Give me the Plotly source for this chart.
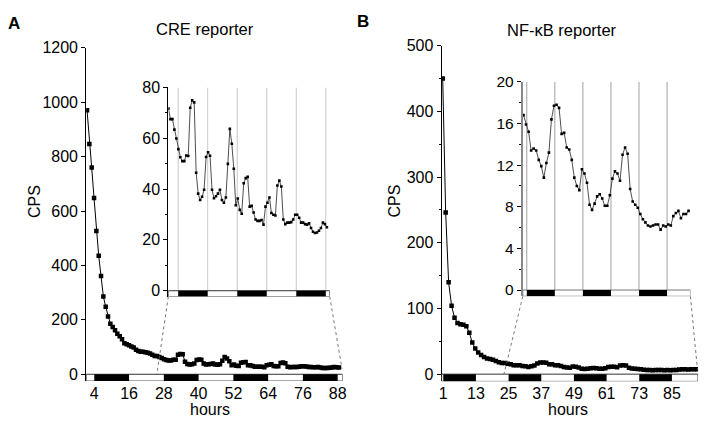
import plotly.graph_objects as go

FONT = "Arial, 'Liberation Sans', Helvetica, sans-serif"
W, H = 708, 421

# ---------------- Panel A : CRE reporter ----------------
cre_first_hour = 1.5
cre_step_hours = 0.805          # interval between luminescence readings
cre_decay_cps = [971, 847, 760, 648, 527, 436, 361, 286, 248, 212, 186, 174, 162, 149,
                 140, 129, 114, 110, 107, 102, 98, 90, 86, 83, 83, 81, 79, 76]
cre_tail_cps = [71.7, 67.5, 67.5, 63.4, 59.9, 55.7, 52.5, 51.0, 51.0, 53.2, 53.0, 72.0,
                74.9, 74.1, 46.4, 38.2, 35.7, 37.0, 39.7, 52.6, 54.5, 53.1, 39.7, 36.4,
                37.2, 38.2, 39.7, 35.7, 34.6, 36.7, 49.9, 63.7, 57.8, 48.0, 33.6, 36.3,
                31.8, 30.3, 42.3, 44.3, 44.8, 33.1, 33.4, 30.8, 28.0, 27.5, 27.5, 27.8,
                26.0, 33.1, 34.6, 36.7, 30.6, 29.9, 29.6, 41.4, 43.3, 41.0, 28.0, 26.2,
                26.8, 26.8, 27.0, 28.0, 29.9, 29.9, 28.7, 26.8, 26.8, 26.2, 26.0, 26.5,
                24.7, 23.2, 22.7, 22.9, 23.6, 24.7, 26.8, 26.2, 25.0]
cre_dark_periods = [(4, 16), (28, 40), (52, 64), (76, 88)]
cre_xticks = [4, 16, 28, 40, 52, 64, 76, 88]
cre_yticks = [0, 200, 400, 600, 800, 1000, 1200]
cre_inset_yticks = [0, 20, 40, 60, 80]

# ---------------- Panel B : NF-kB reporter ----------------
nfkb_first_hour = 0.8
nfkb_step_hours = 1.086
nfkb_decay_cps = [450, 246, 140, 104, 86, 78, 76, 75, 73, 63, 48, 39, 33, 29, 26, 24,
                  23, 22, 20, 18, 17]
nfkb_tail_cps = [16.8, 15.9, 15.2, 13.4, 13.6, 13.4, 12.5, 11.9, 10.8, 12.2,
                 13.2, 16.4, 17.7, 17.8, 17.5, 15.0, 15.1, 13.7, 13.5, 12.5,
                 10.8, 10.0, 9.6, 11.6, 11.2, 10.3, 8.2, 7.7, 8.3, 9.0,
                 9.2, 8.8, 8.1, 8.1, 9.1, 10.7, 11.4, 11.2, 10.5, 13.0,
                 13.7, 13.1, 9.7, 8.5, 8.2, 7.9, 7.3, 6.8, 6.5, 6.2,
                 6.1, 6.2, 6.3, 6.3, 5.8, 6.2, 6.1, 6.3, 6.2, 7.1,
                 7.4, 7.6, 6.9, 7.3, 7.3, 7.6]
nfkb_dark_periods = [(1, 13), (25, 37), (49, 61), (73, 85)]
nfkb_xticks = [1, 13, 25, 37, 49, 61, 73, 85]
nfkb_yticks = [0, 100, 200, 300, 400, 500]
nfkb_inset_yticks = [0, 4, 8, 12, 16, 20]

cre_cps = cre_decay_cps + cre_tail_cps
cre_hours = [round(cre_first_hour + cre_step_hours * i, 3) for i in range(len(cre_cps))]
cre_tail_hours = cre_hours[len(cre_decay_cps):]

nfkb_cps = nfkb_decay_cps + nfkb_tail_cps
nfkb_hours = [round(nfkb_first_hour + nfkb_step_hours * i, 3) for i in range(len(nfkb_cps))]
nfkb_tail_hours = nfkb_hours[len(nfkb_decay_cps):]

# ---------------- layout geometry (paper fractions from pixels) ----------------
def px_x(p):
    return p / W


def px_y(p):
    return 1 - p / H


axes = {
    # name: (x domain, y domain, x range, y range)
    "A": ([px_x(84), px_x(343)], [px_y(383), px_y(40)], [1.2, 89.7], [-25, 1200]),
    "Ai": ([px_x(167), px_x(330)], [px_y(296), px_y(80.7)], [24.0, 89.6], [-2.3, 80]),
    "B": ([px_x(443), px_x(702)], [px_y(383.3), px_y(37.7)], [0.4, 94.6], [-11, 500]),
    "Bi": ([px_x(525), px_x(694.3)], [px_y(295.7), px_y(75)], [23.3, 95.0], [-0.6, 20]),
}
refs = {"A": ("x", "y"), "Ai": ("x2", "y2"), "B": ("x3", "y3"), "Bi": ("x4", "y4")}


def to_paper(ax, xv, yv):
    xd, yd, xr, yr = axes[ax]
    px = xd[0] + (xv - xr[0]) / (xr[1] - xr[0]) * (xd[1] - xd[0])
    py = yd[0] + (yv - yr[0]) / (yr[1] - yr[0]) * (yd[1] - yd[0])
    return px, py


fig = go.Figure()

main_line = dict(color="black", width=1)
fig.add_trace(go.Scatter(x=cre_hours, y=cre_cps, mode="lines+markers", line=main_line,
                         marker=dict(symbol="square", size=4.5, color="black"),
                         xaxis="x", yaxis="y", showlegend=False))
fig.add_trace(go.Scatter(x=cre_tail_hours, y=cre_tail_cps, mode="lines+markers",
                         line=dict(color="#222", width=0.8),
                         marker=dict(symbol="square", size=2.6, color="black"),
                         xaxis="x2", yaxis="y2", showlegend=False))
fig.add_trace(go.Scatter(x=nfkb_hours, y=nfkb_cps, mode="lines+markers", line=main_line,
                         marker=dict(symbol="square", size=4.5, color="black"),
                         xaxis="x3", yaxis="y3", showlegend=False))
fig.add_trace(go.Scatter(x=nfkb_tail_hours, y=nfkb_tail_cps, mode="lines+markers",
                         line=dict(color="#222", width=0.8),
                         marker=dict(symbol="square", size=2.6, color="black"),
                         xaxis="x4", yaxis="y4", showlegend=False))

shapes = []


def light_dark_bar(ax, dark_periods, outline="#333"):
    xd, yd, xr, yr = axes[ax]
    xref, yref = refs[ax]
    shapes.append(dict(type="rect", xref=xref, yref=yref, x0=xr[0], x1=xr[1], y0=yr[0], y1=0,
                       fillcolor="white", line=dict(color=outline, width=1), layer="above"))
    for a, b in dark_periods:
        a2, b2 = max(a, xr[0]), min(b, xr[1])
        if b2 <= a2:
            continue
        shapes.append(dict(type="rect", xref=xref, yref=yref, x0=a2, x1=b2, y0=yr[0], y1=0,
                           fillcolor="black", line=dict(width=0), layer="above"))


def phase_lines(ax, dark_periods, color):
    xd, yd, xr, yr = axes[ax]
    xref, yref = refs[ax]
    for a, b in dark_periods:
        for v in (a, b):
            if xr[0] < v < xr[1]:
                shapes.append(dict(type="line", xref=xref, yref=yref, x0=v, x1=v, y0=0,
                                   y1=yr[1], line=dict(color=color, width=1), layer="below"))


light_dark_bar("A", cre_dark_periods)
light_dark_bar("Ai", cre_dark_periods)
light_dark_bar("B", nfkb_dark_periods)
light_dark_bar("Bi", nfkb_dark_periods, outline="#777")
phase_lines("Ai", cre_dark_periods, "#c8c8c8")
phase_lines("Bi", nfkb_dark_periods, "#a0a0a0")


def connector(inset, main, inset_x, main_x, main_y):
    xr, yr = axes[inset][2], axes[inset][3]
    x0, y0 = to_paper(inset, inset_x, yr[0])
    x1, y1 = to_paper(main, main_x, main_y)
    shapes.append(dict(type="line", xref="paper", yref="paper", x0=x0, y0=y0, x1=x1, y1=y1,
                       line=dict(color="#555", width=0.8, dash="dot")))


connector("Ai", "A", axes["Ai"][2][0], 25.6, 0)
connector("Ai", "A", axes["Ai"][2][1], 89.5, 20)
connector("Bi", "B", axes["Bi"][2][0], 23.3, 0)
connector("Bi", "B", axes["Bi"][2][1], 94.4, 6)

tickfont = dict(family=FONT, size=16, color="black")


def xaxis_cfg(ax, tickvals=None):
    xd, yd, xr, yr = axes[ax]
    cfg = dict(domain=xd, range=xr, anchor=refs[ax][1], showgrid=False, zeroline=False,
               showline=False, ticks="", fixedrange=True)
    if tickvals is None:
        cfg.update(showticklabels=False)
    else:
        cfg.update(tickvals=tickvals, tickfont=tickfont, ticklabelstandoff=1)
    return cfg


def yaxis_cfg(ax, tickvals, minor_dtick, linecolor="black", linewidth=1, size=16):
    xd, yd, xr, yr = axes[ax]
    cfg = dict(domain=yd, range=yr, anchor=refs[ax][0], showgrid=False, zeroline=False,
               showline=True, linecolor=linecolor, linewidth=linewidth,
               ticks="outside", ticklen=4, tickwidth=1, tickcolor="black",
               tickvals=tickvals, tickfont=dict(family=FONT, size=size, color="black"),
               fixedrange=True)
    if minor_dtick:
        cfg["minor"] = dict(ticks="outside", ticklen=2, dtick=minor_dtick, tick0=0,
                            tickcolor="black")
    return cfg


def label(text, x, y, size=16, angle=0):
    return dict(text=text, x=px_x(x), y=px_y(y), xref="paper", yref="paper",
                xanchor="center", yanchor="middle", textangle=angle, showarrow=False,
                font=dict(family=FONT, size=size, color="black"))


annotations = [
    label("<b>A</b>", 11, 15, 17),
    label("<b>B</b>", 364, 13, 17),
    label("CRE reporter", 204, 21, 16.5),
    label("NF-κB reporter", 565, 22, 16.5),
    label("CPS", 32, 198, 16, -90),
    label("CPS", 395, 198, 16, -90),
    label("hours", 209, 412, 16),
    label("hours", 571, 412, 16),
]

fig.update_layout(
    width=W, height=H, autosize=False,
    margin=dict(l=0, r=0, t=0, b=0),
    paper_bgcolor="white", plot_bgcolor="rgba(0,0,0,0)",
    showlegend=False,
    xaxis=xaxis_cfg("A", cre_xticks),
    yaxis=yaxis_cfg("A", cre_yticks, None),
    xaxis2=xaxis_cfg("Ai"),
    yaxis2=yaxis_cfg("Ai", cre_inset_yticks, 10),
    xaxis3=xaxis_cfg("B", nfkb_xticks),
    yaxis3=yaxis_cfg("B", nfkb_yticks, 50),
    xaxis4=xaxis_cfg("Bi"),
    yaxis4=yaxis_cfg("Bi", nfkb_inset_yticks, 2, linecolor="#888", linewidth=2, size=15.5),
    shapes=shapes,
    annotations=annotations,
)

pin_page = (
    "var s=document.documentElement.style;s.margin='0';s.padding='0';s.overflow='hidden';"
    "var b=document.body.style;b.margin='0';b.padding='0';b.overflow='hidden';"
    "var gd=document.querySelector('.plotly-graph-div');"
    "gd.style.position='fixed';gd.style.top='0';gd.style.left='0';"
)
fig.write_html("out.html", config={"displayModeBar": False}, post_script=pin_page)
